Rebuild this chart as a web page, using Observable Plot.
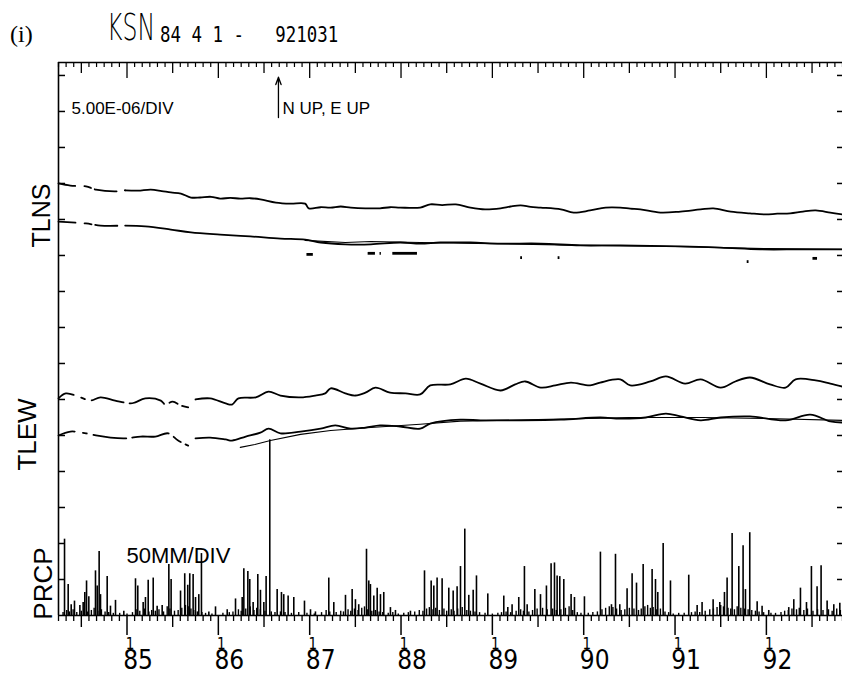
<!DOCTYPE html>
<html><head><meta charset="utf-8">
<script src="https://cdn.jsdelivr.net/npm/d3@7"></script>
<script src="https://cdn.jsdelivr.net/npm/@observablehq/plot@0.6"></script>
<style>
html,body{margin:0;padding:0;background:#fff;overflow:hidden;}
#wrap{position:relative;width:842px;height:675px;}
#head{position:relative;height:50px;width:842px;}
#head span{position:absolute;white-space:pre;line-height:1;color:#000;transform-origin:0 0;}
#chart svg{display:block;}
</style></head><body>
<div id="wrap">
<div id="head">
<span id="tag" style="left:10px;top:21px;font:24px 'Liberation Serif',serif;"></span>
<span id="stn" style="left:107px;top:8px;font-family:'DejaVu Sans',sans-serif;font-size:38px;font-weight:200;transform:scaleX(0.62)"></span>
<span id="per" style="left:160px;top:22px;font:21.5px 'DejaVu Sans Mono',monospace;transform:scaleX(0.81)"></span>
</div>
<div id="chart"></div>
</div>
<script>
// ---------- texts ----------
const panelTag = "(i)";
const station = "KSN";
const period = "84 4 1 -   921031";
const labelNS = "TLNS", labelEW = "TLEW", labelRain = "PRCP";
const tiltScaleText = "5.00E-06/DIV";
const dirText = "N UP, E UP";
const rainScaleText = "50MM/DIV";
const yearTicks = [85, 86, 87, 88, 89, 90, 91, 92];
const dayLabel = "1";

// ---------- time span (decimal year, 19xx) ----------
const tStart = 84.25;          // 1984-04-01
const tEnd = 92 + 10 / 12;     // 1992-10-31

// ---------- tilt series: [decimal year, divisions] ----------
const tlnsUpper = [[84.25,12.00],[84.38,11.94],[84.55,11.92],[84.66,11.83],[84.87,11.78],[84.98,11.81],[85.12,11.80],[85.26,11.83],[85.38,11.79],[85.48,11.75],[85.59,11.72],[85.70,11.61],[85.80,11.61],[85.92,11.63],[86.02,11.58],[86.13,11.60],[86.24,11.58],[86.35,11.59],[86.46,11.56],[86.63,11.47],[86.79,11.44],[86.95,11.44],[86.99,11.31],[87.12,11.34],[87.23,11.33],[87.34,11.36],[87.45,11.33],[87.61,11.31],[87.77,11.31],[87.88,11.34],[87.99,11.33],[88.21,11.33],[88.32,11.42],[88.45,11.40],[88.60,11.42],[88.76,11.33],[88.92,11.28],[89.09,11.31],[89.20,11.36],[89.31,11.39],[89.42,11.35],[89.53,11.33],[89.75,11.28],[89.89,11.19],[90.07,11.25],[90.24,11.33],[90.40,11.33],[90.51,11.30],[90.62,11.28],[90.84,11.19],[91.06,11.22],[91.28,11.28],[91.42,11.31],[91.61,11.22],[91.82,11.17],[91.99,11.14],[92.12,11.16],[92.26,11.17],[92.40,11.22],[92.54,11.25],[92.70,11.19],[92.83,11.14]];
const tlnsLower = [[84.25,10.94],[84.55,10.89],[84.71,10.83],[84.98,10.83],[85.20,10.81],[85.48,10.72],[85.70,10.64],[86.02,10.58],[86.35,10.53],[86.68,10.47],[86.95,10.44],[87.12,10.36],[87.39,10.31],[87.67,10.31],[87.99,10.36],[88.21,10.33],[88.43,10.36],[88.76,10.36],[89.09,10.33],[89.53,10.33],[89.96,10.28],[90.40,10.28],[91.06,10.25],[91.50,10.22],[91.93,10.17],[92.37,10.17],[92.83,10.17]];
const tlnsFit = [[86.95,10.42],[87.39,10.36],[87.67,10.39],[88.21,10.36],[89.0,10.33],[90.0,10.28],[91.0,10.25],[92.0,10.19],[92.83,10.17]];
const tlnsMarks = [[86.97,87.04,10.03],[87.64,87.72,10.06],[87.77,87.785,10.06],[87.91,88.18,10.06],[89.31,89.33,9.94],[89.72,89.74,9.94],[91.79,91.81,9.83],[92.51,92.56,9.92]];

const tlewUpper = [[84.25,6.03],[84.33,6.17],[84.49,6.06],[84.60,5.97],[84.71,6.06],[84.87,5.97],[85.04,5.89],[85.09,5.92],[85.20,6.03],[85.37,5.97],[85.42,5.86],[85.50,5.94],[85.59,5.83],[85.67,5.78],[85.75,6.00],[85.91,6.03],[86.08,5.89],[86.15,5.86],[86.22,6.03],[86.41,6.06],[86.55,6.22],[86.68,6.11],[86.90,6.06],[87.06,6.11],[87.17,6.17],[87.23,6.31],[87.39,6.17],[87.50,6.11],[87.61,6.19],[87.72,6.33],[87.88,6.19],[88.05,6.17],[88.21,6.14],[88.32,6.39],[88.54,6.42],[88.71,6.58],[88.87,6.44],[89.09,6.25],[89.25,6.42],[89.36,6.50],[89.53,6.33],[89.69,6.39],[89.86,6.47],[90.07,6.39],[90.18,6.47],[90.40,6.56],[90.51,6.39],[90.73,6.50],[90.90,6.64],[91.11,6.44],[91.28,6.56],[91.50,6.33],[91.66,6.50],[91.82,6.61],[92.04,6.42],[92.21,6.33],[92.32,6.56],[92.54,6.53],[92.70,6.44],[92.83,6.36]];
const tlewLower = [[84.25,5.00],[84.38,5.11],[84.55,5.06],[84.66,5.00],[84.82,4.94],[84.98,4.92],[85.15,4.97],[85.31,4.97],[85.45,5.06],[85.56,4.86],[85.67,4.72],[85.75,4.92],[85.91,4.94],[86.08,4.89],[86.15,4.86],[86.30,4.97],[86.46,5.08],[86.55,5.19],[86.68,5.06],[86.90,5.11],[87.12,5.19],[87.28,5.28],[87.45,5.19],[87.61,5.22],[87.77,5.28],[87.99,5.25],[88.21,5.19],[88.32,5.33],[88.65,5.44],[88.87,5.42],[89.09,5.42],[89.31,5.42],[89.75,5.44],[90.18,5.50],[90.40,5.47],[90.68,5.50],[90.90,5.61],[91.06,5.53],[91.28,5.42],[91.50,5.50],[91.82,5.53],[92.21,5.42],[92.48,5.58],[92.70,5.39],[92.83,5.36]];
const tlewFit = [[86.24,4.67],[86.40,4.75],[86.57,4.86],[86.90,5.03],[87.23,5.14],[87.67,5.22],[88.21,5.31],[88.65,5.40],[89.5,5.44],[90.5,5.50],[91.3,5.50],[92.0,5.47],[92.83,5.42]];

// ---------- precipitation: [decimal year, mm] ----------
const prcpEvents = [[84.316,106],[84.356,43],[84.389,15],[84.425,20],[84.484,14],[84.520,18],[84.538,32],[84.557,48],[84.582,26],[84.655,62],[84.674,41],[84.695,89],[84.710,29],[84.783,54],[84.819,13],[84.874,21],[84.965,6],[85.093,51],[85.118,41],[85.177,18],[85.202,25],[85.232,49],[85.287,52],[85.330,13],[85.385,14],[85.458,71],[85.483,50],[85.586,34],[85.632,58],[85.665,42],[85.687,58],[85.724,57],[85.750,25],[85.786,29],[85.815,86],[85.896,5],[85.969,12],[86.097,8],[86.188,23],[86.261,25],[86.279,65],[86.323,61],[86.344,50],[86.381,18],[86.432,57],[86.461,35],[86.498,18],[86.523,54],[86.563,244],[86.644,36],[86.691,32],[86.716,29],[86.764,27],[86.826,25],[86.943,20],[87.009,8],[87.063,5],[87.209,52],[87.264,18],[87.392,28],[87.465,36],[87.501,22],[87.537,15],[87.622,92],[87.647,48],[87.665,43],[87.702,27],[87.739,38],[87.775,29],[87.811,32],[87.884,11],[87.939,7],[88.103,6],[88.257,62],[88.330,48],[88.359,41],[88.395,52],[88.450,51],[88.523,38],[88.571,34],[88.614,40],[88.651,68],[88.698,120],[88.742,28],[88.790,35],[88.826,55],[88.950,30],[89.125,27],[89.169,11],[89.216,15],[89.289,25],[89.351,68],[89.381,15],[89.465,36],[89.527,29],[89.592,41],[89.643,72],[89.680,73],[89.709,55],[89.738,54],[89.782,50],[89.862,29],[89.899,25],[90.008,26],[90.183,88],[90.304,15],[90.348,85],[90.395,15],[90.475,37],[90.530,58],[90.578,45],[90.651,71],[90.749,64],[90.786,50],[90.811,32],[90.870,100],[90.950,48],[91.150,56],[91.242,14],[91.296,18],[91.417,22],[91.490,18],[91.541,32],[91.570,52],[91.625,114],[91.698,68],[91.745,97],[91.771,36],[91.818,115],[91.899,19],[91.953,13],[92.026,7],[92.245,11],[92.300,22],[92.373,38],[92.439,18],[92.493,68],[92.555,40],[92.599,69],[92.665,20],[92.738,15],[92.804,17]];
const prcpSmall = [[84.30,4],[84.34,7],[84.37,5],[84.41,8],[84.45,4],[84.50,6],[84.53,9],[84.57,5],[84.61,7],[84.64,10],[84.68,6],[84.72,8],[84.76,5],[84.80,4],[84.85,3],[84.92,3],[85.00,2],[85.06,4],[85.10,8],[85.14,6],[85.19,9],[85.24,5],[85.27,7],[85.31,6],[85.35,8],[85.40,5],[85.44,12],[85.47,9],[85.52,6],[85.56,7],[85.60,10],[85.64,14],[85.67,12],[85.70,9],[85.73,7],[85.77,5],[85.82,4],[85.86,3],[85.93,2],[86.05,3],[86.12,4],[86.16,5],[86.22,8],[86.25,6],[86.30,9],[86.35,12],[86.39,7],[86.42,10],[86.46,8],[86.51,6],[86.58,5],[86.62,4],[86.68,5],[86.73,4],[86.80,3],[86.88,4],[86.97,3],[87.05,2],[87.13,4],[87.18,7],[87.22,5],[87.29,4],[87.34,6],[87.37,5],[87.42,8],[87.45,6],[87.49,9],[87.53,7],[87.57,10],[87.60,12],[87.63,8],[87.68,6],[87.72,7],[87.76,5],[87.80,4],[87.86,3],[87.91,4],[87.97,2],[88.03,3],[88.08,4],[88.15,5],[88.20,7],[88.24,6],[88.28,9],[88.31,11],[88.35,8],[88.38,10],[88.42,7],[88.47,9],[88.50,6],[88.55,8],[88.58,6],[88.62,9],[88.67,11],[88.72,7],[88.76,6],[88.81,5],[88.86,4],[88.92,3],[89.00,2],[89.06,3],[89.10,4],[89.15,5],[89.20,4],[89.26,6],[89.31,8],[89.34,6],[89.40,5],[89.44,7],[89.49,9],[89.55,10],[89.60,8],[89.66,9],[89.70,7],[89.75,8],[89.80,10],[89.84,12],[89.88,7],[89.93,4],[89.97,3],[90.05,3],[90.10,4],[90.15,5],[90.20,8],[90.24,10],[90.28,12],[90.32,11],[90.36,9],[90.41,7],[90.45,8],[90.50,10],[90.55,9],[90.60,7],[90.63,9],[90.67,12],[90.70,14],[90.73,10],[90.76,11],[90.80,8],[90.84,9],[90.89,5],[90.93,4],[90.98,2],[91.04,3],[91.10,3],[91.18,4],[91.22,5],[91.27,4],[91.33,6],[91.38,8],[91.42,9],[91.46,11],[91.50,14],[91.53,12],[91.58,10],[91.61,9],[91.65,8],[91.68,12],[91.72,10],[91.76,9],[91.80,8],[91.84,7],[91.88,6],[91.92,5],[91.97,4],[92.05,3],[92.10,3],[92.16,4],[92.20,6],[92.24,7],[92.28,9],[92.33,8],[92.36,10],[92.41,7],[92.45,9],[92.51,6],[92.56,8],[92.62,7],[92.68,8],[92.72,6],[92.77,9],[92.81,7]];
const mmPerDiv = 50;

// ---------- header ----------
document.getElementById("tag").textContent = panelTag;
document.getElementById("stn").textContent = station;
document.getElementById("per").textContent = period;

// ---------- layout ----------
const W = 842, H = 625, mT = 12, mB = 60, mL = 58, mR = 0;
const fw = W - mL - mR, fh = H - mT - mB;
const yTop = 15.36;
const divTicks = d3.range(1, 16);
const monthIdx = d3.range(84 * 12 + 3, 92 * 12 + 11);
const minorMonths = monthIdx.filter(k => k % 6 !== 0).map(k => k / 12);
const julys = monthIdx.filter(k => k % 12 === 6).map(k => k / 12);
const jans = monthIdx.filter(k => k % 12 === 0).map(k => k / 12);

const cutNS = 84.98, cutEW = 85.70;
const X = d => d[0], Y = d => d[1];
const sw = 1.8;
const lineOpts = {x: X, y: Y, strokeWidth: sw, curve: "catmull-rom"};
const txt = {fill: "black", stroke: null};
const plotterFont = "Liberation Sans Narrow, DejaVu Sans Condensed, sans-serif";

const plot = Plot.plot({
  width: W, height: H,
  marginTop: mT, marginBottom: mB, marginLeft: mL, marginRight: mR,
  x: {domain: [tStart, tEnd], axis: null},
  y: {domain: [0, yTop], axis: null},
  style: {background: "white", color: "black", fontFamily: "Liberation Sans, Arial, sans-serif"},
  marks: [
    // frame (top, left, baseline)
    Plot.ruleY([yTop], {strokeWidth: 1.6}),
    Plot.ruleX([tStart], {strokeWidth: 1.6}),
    Plot.ruleY([0], {strokeWidth: 1.6}),
    // division ticks left and right
    Plot.ruleY(divTicks, {insetRight: fw - 7, strokeWidth: 1.5}),
    Plot.ruleY(divTicks, {insetLeft: fw - 5, strokeWidth: 1.5}),
    // top month ticks (inward)
    Plot.ruleX(minorMonths, {insetBottom: fh - 5, strokeWidth: 1.2}),
    Plot.ruleX(julys, {insetBottom: fh - 11, strokeWidth: 1.3}),
    Plot.ruleX(jans, {insetBottom: fh - 16, strokeWidth: 1.3}),
    // bottom month ticks (outward)
    Plot.ruleX(minorMonths, {insetTop: fh, insetBottom: -6, strokeWidth: 1.3}),
    Plot.ruleX(julys, {insetTop: fh, insetBottom: -12, strokeWidth: 1.4}),
    Plot.ruleX(jans, {insetTop: fh, insetBottom: -20, strokeWidth: 1.5}),
    // precipitation
    Plot.ruleX(prcpSmall, {x: X, y1: 0, y2: d => d[1] / mmPerDiv, strokeWidth: 1.4}),
    Plot.ruleX(prcpEvents, {x: X, y1: 0, y2: d => d[1] / mmPerDiv, strokeWidth: 1.6}),
    // TLNS
    Plot.line(tlnsUpper.filter(d => d[0] <= cutNS), {...lineOpts, strokeDasharray: "17,9,7,4,22,8"}),
    Plot.line(tlnsUpper.filter(d => d[0] >= cutNS), lineOpts),
    Plot.line(tlnsLower.filter(d => d[0] <= cutNS), {...lineOpts, strokeDasharray: "17,9,7,4,22,8"}),
    Plot.line(tlnsLower.filter(d => d[0] >= cutNS), lineOpts),
    Plot.line(tlnsFit, {x: X, y: Y, strokeWidth: 1.1}),
    Plot.ruleY(tlnsMarks, {y: d => d[2], x1: d => d[0], x2: d => d[1], strokeWidth: 2.8}),
    // TLEW
    Plot.line(tlewUpper.filter(d => d[0] <= cutEW), {...lineOpts, strokeDasharray: "17,8,4,7,33,6,37,6,9,5"}),
    Plot.line(tlewUpper.filter(d => d[0] >= cutEW), lineOpts),
    Plot.line(tlewLower.filter(d => d[0] <= cutEW), {...lineOpts, strokeDasharray: "17,8,4,7,33,6,37,6,9,5"}),
    Plot.line(tlewLower.filter(d => d[0] >= cutEW), lineOpts),
    Plot.line(tlewFit, {x: X, y: Y, strokeWidth: 1.1}),
    // annotations
    Plot.text([tiltScaleText], {...txt, frameAnchor: "top-left", dx: 13, dy: 46, textAnchor: "start", lineAnchor: "middle", fontSize: 17}),
    Plot.text([dirText], {...txt, frameAnchor: "top-left", dx: 224, dy: 46, textAnchor: "start", lineAnchor: "middle", fontSize: 17}),
    Plot.arrow([0], {x1: 86.658, x2: 86.658, y1: 13.83, y2: 14.95, headLength: 9, headAngle: 40, strokeWidth: 1.3}),
    Plot.text([rainScaleText], {...txt, frameAnchor: "bottom-left", dx: 68, dy: -60, textAnchor: "start", lineAnchor: "middle", fontSize: 22}),
    Plot.text([labelNS], {...txt, frameAnchor: "top-left", dx: -17, dy: 153, rotate: -90, textAnchor: "middle", lineAnchor: "middle", fontSize: 25}),
    Plot.text([labelEW], {...txt, frameAnchor: "top-left", dx: -31, dy: 372, rotate: -90, textAnchor: "middle", lineAnchor: "middle", fontSize: 26, ariaLabel: "ew-label"}),
    Plot.text([labelRain], {...txt, frameAnchor: "top-left", dx: -15, dy: 521, rotate: -90, textAnchor: "middle", lineAnchor: "middle", fontSize: 26}),
    // year tick labels
    Plot.text(yearTicks, {...txt, x: d => d, text: () => dayLabel, frameAnchor: "bottom", dx: 3, dy: 29, lineAnchor: "middle", fontSize: 15, fontFamily: plotterFont}),
    Plot.text(yearTicks, {...txt, x: d => d, text: d => String(d), frameAnchor: "bottom", dx: 11, dy: 45, lineAnchor: "middle", fontSize: 26, fontFamily: plotterFont, ariaLabel: "year-labels"})
  ]
});
// narrow the plotter-style year digits horizontally around their anchors
d3.select(plot).selectAll('g[aria-label="year-labels"] text').attr("transform", function () {
  return (this.getAttribute("transform") || "") + " scale(0.8,1)";
});
d3.select(plot).selectAll('g[aria-label="ew-label"] text').style("letter-spacing", "3px");
document.getElementById("chart").appendChild(plot);
</script>
</body></html>
